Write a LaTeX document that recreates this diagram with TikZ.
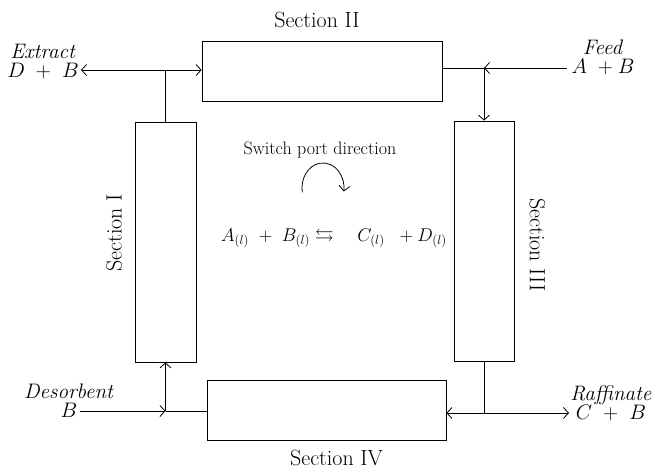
\RequirePackage{fix-cm}
\documentclass[tikz,border=0pt]{standalone}
\usepackage{amssymb}
\usetikzlibrary{arrows.meta}
\begin{document}
\begin{tikzpicture}[x=1pt,y=-1pt,
  big/.style={font=\fontsize{22}{24}\selectfont,inner sep=0pt},
  lab/.style={font=\fontsize{21}{19}\selectfont,align=center,inner sep=0pt},
  conn/.style={line width=0.8pt},
  box/.style={draw,line width=0.8pt,inner sep=0pt},
  tip/.style={-{Straight Barb[length=5pt,width=11pt,line width=0.8pt]}},
  ]
\useasboundingbox (0,0) rectangle (654,468);
% boxes
\node[box,minimum width=240pt,minimum height=60pt] (s2) at (322,71) {};
\node[box,minimum width=61pt,minimum height=240pt] (s1) at (165.5,242) {};
\node[box,minimum width=60pt,minimum height=240pt] (s3) at (484,241) {};
\node[box,minimum width=239pt,minimum height=60pt] (s4) at (326.5,410) {};
% section labels
\node[big,anchor=base] (l2) at (317,28) {Section II};
\node[big,anchor=base] (l4) at (336.5,465) {Section IV};
\node[big,rotate=90] (l1) at (114,233) {Section I};
\node[big,rotate=-90] (l3) at (537.5,245) {Section III};
% extract
\node[lab] (ext) at (43,62) {\textit{Extract}\\$D\ +\ B$};
\coordinate (extend) at (81,70);
\coordinate (j1) at (s1.north |- 0,70);
\draw[conn] (j1) -- (s1.north);
\draw[conn,tip] (j1) -- (extend);
\draw[conn,tip] (j1) -- (s2.west |- j1);
% feed
\node[lab] (feed) at (603,57) {\textit{Feed}\\$A\ +B$};
\coordinate (feedend) at (567,68);
\coordinate (j2) at (s3.north |- 0,68);
\draw[conn,tip] (feedend) -- (j2);
\draw[conn] (j2) -- (s2.east |- j2);
\draw[conn,tip] (j2) -- (s3.north);
% desorbent
\node[lab] (des) at (69,401) {\textit{Desorbent}\\$B$};
\coordinate (desend) at (80,411);
\coordinate (j3) at (s1.south |- 0,411);
\draw[conn,tip] (desend) -- (j3);
\draw[conn,tip] (j3) -- (s1.south);
\draw[conn] (j3) -- (s4.west |- j3);
% raffinate
\node[lab] (raf) at (611,403) {\textit{Raffinate}\\$C\ +\ B$};
\coordinate (rafend) at (569,413);
\coordinate (j4) at (s3.south |- 0,413);
\draw[conn] (s3.south) -- (j4);
\draw[conn,tip] (j4) -- (s4.east |- j4);
\draw[conn,tip] (j4) -- (rafend);
% center
\node[font=\fontsize{18}{20}\selectfont] (sw) at (320,150) {Switch port direction};
\coordinate (arcstart) at (302.3,192.3);
\draw[line width=0.8pt,tip] (arcstart) arc[start angle=170,end angle=368,x radius=21,y radius=25];
\node[font=\fontsize{18.5}{20}\selectfont,inner sep=0pt] (eq) at (334,238) {$A_{(l)}\ +\ B_{(l)} \leftrightarrows \quad C_{(l)}\ \ +D_{(l)}$};
\end{tikzpicture}
\end{document}
